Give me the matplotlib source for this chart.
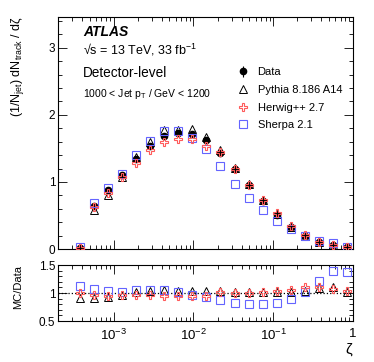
import matplotlib
matplotlib.use("Agg")
import matplotlib.pyplot as plt
from matplotlib.ticker import LogLocator, MultipleLocator, FixedLocator, FuncFormatter, NullFormatter
import numpy as np

plt.rcParams['font.family'] = ['Liberation Sans', 'DejaVu Sans']
plt.rcParams['mathtext.fontset'] = 'custom'
plt.rcParams['mathtext.rm'] = 'Liberation Sans'
plt.rcParams['mathtext.it'] = 'Liberation Sans:italic'
plt.rcParams['mathtext.bf'] = 'Liberation Sans:bold'

# bin centres in zeta (log spaced)
zeta = [3.76e-4, 5.64e-4, 8.47e-4, 1.27e-3, 1.91e-3, 2.86e-3, 4.30e-3,
        6.45e-3, 9.68e-3, 1.45e-2, 2.18e-2, 3.27e-2, 4.91e-2, 7.37e-2,
        0.1106, 0.166, 0.249, 0.374, 0.561, 0.842]

data = [0.02, 0.64, 0.88, 1.10, 1.34, 1.54, 1.68, 1.73, 1.72, 1.62,
        1.43, 1.19, 0.955, 0.72, 0.51, 0.33, 0.19, 0.10, 0.06, 0.025]
data_err = [0.005, 0.02, 0.02, 0.02, 0.025, 0.03, 0.03, 0.03, 0.03, 0.03,
            0.03, 0.025, 0.02, 0.02, 0.015, 0.01, 0.008, 0.006, 0.004, 0.003]

ratio_pythia = [0.91, 0.91, 0.92, 0.97, 1.02, 1.04, 1.06, 1.03, 1.04, 1.03,
                1.03, 1.02, 1.02, 1.02, 1.02, 1.01, 1.03, 1.09, 1.10, 1.01]
ratio_herwig = [1.00, 0.97, 0.95, 0.97, 0.96, 0.96, 0.95, 0.95, 0.95, 0.95,
                1.01, 1.00, 1.00, 1.02, 1.04, 1.06, 1.10, 1.10, 1.08, 1.03]
ratio_sherpa = [1.12, 1.07, 1.03, 1.02, 1.05, 1.05, 1.05, 1.02, 0.96, 0.92,
                0.87, 0.82, 0.80, 0.80, 0.82, 0.90, 1.01, 1.22, 1.40, 1.38]

zeta = np.array(zeta)
data = np.array(data)
pythia = data * np.array(ratio_pythia)
herwig = data * np.array(ratio_herwig)
sherpa = data * np.array(ratio_sherpa)

red = '#ff5a5a'
blue = '#6464ff'

fig = plt.figure(figsize=(3.74, 3.62), dpi=100)
W, H = 374.0, 362.0
ax = fig.add_axes([58 / W, 1 - 249 / H, 295 / W, 232 / H])
rax = fig.add_axes([58 / W, 1 - 321 / H, 295 / W, 56 / H])


def style(a):
    a.set_xscale('log')
    a.set_xlim(2e-4, 1)
    a.xaxis.set_major_locator(LogLocator(base=10, numticks=10))
    a.xaxis.set_minor_locator(LogLocator(base=10, subs=np.arange(2, 10), numticks=10))
    a.tick_params(which='both', direction='in', top=True, right=True,
                  width=0.6, labelsize=8.5, pad=2)
    a.tick_params(which='major', length=6.5)
    a.tick_params(which='minor', length=3)
    for s in a.spines.values():
        s.set_linewidth(0.8)


style(ax)
style(rax)

# main panel
hd = ax.errorbar(zeta, data, yerr=data_err, fmt='o', color='black', ms=4.5,
                 elinewidth=0.8, capsize=0, zorder=3)
hp, = ax.plot(zeta, pythia, '^', mfc='none', mec='black', ms=5.5, mew=0.7, zorder=4)
hs, = ax.plot(zeta, sherpa, 's', mfc='none', mec=blue, ms=5.5, mew=0.8, zorder=5)
hh, = ax.plot(zeta, herwig, 'P', mfc='none', mec=red, ms=5.5, mew=0.8, zorder=6)

ax.set_ylim(0, 3.46)
ax.yaxis.set_major_locator(MultipleLocator(1))
ax.yaxis.set_minor_locator(MultipleLocator(0.2))
ax.xaxis.set_major_formatter(NullFormatter())

ax.legend([hd, hp, hh, hs],
          ['Data', 'Pythia 8.186 A14', 'Herwig++ 2.7', 'Sherpa 2.1'],
          loc='upper left', bbox_to_anchor=(237 / W, 1 - 67 / H),
          bbox_transform=fig.transFigure, frameon=False, fontsize=8,
          handlelength=1.0, handletextpad=0.85, labelspacing=0.7,
          borderpad=0, borderaxespad=0)

fig.text(83 / W, 1 - 36 / H, 'ATLAS', fontsize=10, fontweight='bold',
         fontstyle='italic', va='baseline')
fig.text(83 / W, 1 - 55 / H, '√s = 13 TeV, 33 fb$^{-1}$', fontsize=9, va='baseline')
fig.text(83 / W, 1 - 77 / H, 'Detector-level', fontsize=9.8, va='baseline')
fig.text(83 / W, 1 - 97 / H, '1000 < Jet p$_{\\mathregular{T}}$ / GeV < 1200',
         fontsize=7.5, va='baseline')

fig.text(17 / W, 1 - 16 / H,
         '(1/N$_{\\mathregular{jet}}$) dN$_{\\mathregular{track}}$ / d\u03b6',
         rotation=90, ha='center', va='top', fontsize=9)

# ratio panel
rax.axhline(1.0, color='black', ls=':', lw=0.9, zorder=1)
rax.plot(zeta, ratio_pythia, '^', mfc='none', mec='black', ms=5.5, mew=0.7, zorder=4)
rax.plot(zeta, ratio_sherpa, 's', mfc='none', mec=blue, ms=5.5, mew=0.8, zorder=5)
rax.plot(zeta, ratio_herwig, 'P', mfc='none', mec=red, ms=5.5, mew=0.8, zorder=6)
rax.set_ylim(0.5, 1.5)
rax.yaxis.set_major_locator(FixedLocator([0.5, 1.0, 1.5]))
rax.yaxis.set_minor_locator(MultipleLocator(0.1))
rax.yaxis.set_major_formatter(FuncFormatter(lambda v, p: '%g' % v))


def xlab(v, p):
    if np.isclose(v, 1.0):
        return '1'
    e = int(round(np.log10(v)))
    return '$\\mathregular{10^{%d}}$' % e


rax.xaxis.set_major_formatter(FuncFormatter(xlab))
rax.tick_params(axis='x', labelsize=9.5, pad=5)

fig.text(18 / W, 1 - 287 / H, 'MC/Data', rotation=90, ha='center', va='center',
         fontsize=8)
fig.text(352 / W, 1 - 354 / H, '\u03b6', ha='right', va='baseline', fontsize=11)

fig.savefig('out.png', dpi=100)
